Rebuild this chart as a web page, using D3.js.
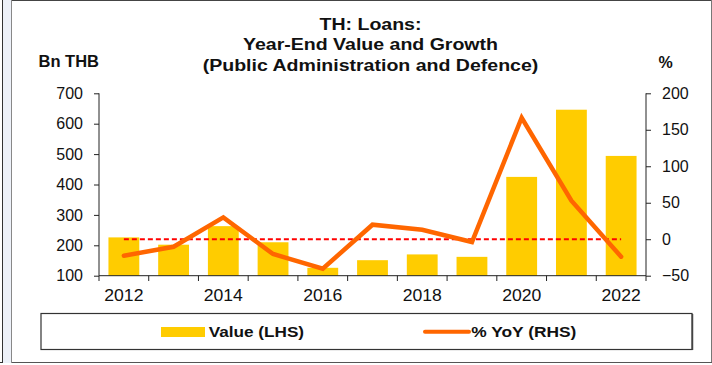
<!DOCTYPE html>
<html>
<head>
<meta charset="utf-8">
<script src="https://cdn.jsdelivr.net/npm/d3@7/dist/d3.min.js"></script>
<style>
  html, body { margin: 0; padding: 0; background: #fff; }
  svg { display: block; font-family: "Liberation Sans", Arial, sans-serif; }
</style>
</head>
<body>
<svg id="chart" width="712" height="365"></svg>
<script>
// Thai loans to public administration and defence, year-end
const years = [2012, 2013, 2014, 2015, 2016, 2017, 2018, 2019, 2020, 2021, 2022];
const valueBn = [226, 202, 263, 210, 126, 151, 170, 162, 425, 646, 494];
const yoyPct = [-22.6, -10.3, 30.0, -20.3, -40.4, 19.9, 13.0, -3.8, 166.5, 52.8, -24.0];
const leftTicks = [100, 200, 300, 400, 500, 600, 700];
const rightTicks = [-50, 0, 50, 100, 150, 200];
const xLabelYears = [2012, 2014, 2016, 2018, 2020, 2022];
const titleLines = ["TH: Loans:", "Year-End Value and Growth", "(Public Administration and Defence)"];
const legendLabels = ["Value (LHS)", "% YoY (RHS)"];

const BAR = "#FFCC00", LINE = "#FF6600", ZERO = "#FF0000";

const svg = d3.select("#chart");

// outer frame and side strip
svg.append("rect").attr("x", 3).attr("y", 0).attr("width", 9).attr("height", 363).attr("fill", "#edf1f9");
svg.append("line").attr("x1", 2.5).attr("x2", 2.5).attr("y1", 0).attr("y2", 363).attr("stroke", "#333");
svg.append("line").attr("x1", 0).attr("x2", 3).attr("y1", 362.5).attr("y2", 362.5).attr("stroke", "#333");
svg.append("line").attr("x1", 11.5).attr("x2", 11.5).attr("y1", 0).attr("y2", 363).attr("stroke", "#888");
svg.append("line").attr("x1", 12).attr("x2", 712).attr("y1", 0.5).attr("y2", 0.5).attr("stroke", "#444");
svg.append("line").attr("x1", 711.5).attr("x2", 711.5).attr("y1", 0).attr("y2", 363).attr("stroke", "#777");
svg.append("line").attr("x1", 12).attr("x2", 712).attr("y1", 362.5).attr("y2", 362.5).attr("stroke", "#555");

// text helper with horizontal stretch
function label(g, txt, x, y, size, anchor, sx, bold) {
  return g.append("text")
    .attr("transform", `translate(${x},${y}) scale(${sx},1)`)
    .attr("text-anchor", anchor)
    .attr("font-size", size)
    .attr("font-weight", bold ? "bold" : "normal")
    .attr("fill", "#111")
    .text(txt);
}

// title
titleLines.forEach((t, i) => label(svg, t, 370.5, 29.5 + i * 20.7, 17, "middle", 1.15, true));
label(svg, "Bn THB", 38.5, 67, 16.5, "start", 1.0, true);
label(svg, "%", 658.5, 68, 16, "start", 1.0, true);

// scales
const x = d3.scaleBand().domain(years).range([99, 646]).paddingInner(0.38).paddingOuter(0.19);
const yL = d3.scaleLinear().domain([100, 700]).range([275.7, 93.3]);
const yR = d3.scaleLinear().domain([-50, 200]).range([275.7, 93.3]);
const cx = d => x(d) + x.bandwidth() / 2;

// bars
svg.append("g").selectAll("rect").data(years).join("rect")
  .attr("x", d => x(d))
  .attr("width", x.bandwidth())
  .attr("y", (d, i) => yL(valueBn[i]))
  .attr("height", (d, i) => yL(100) - yL(valueBn[i]))
  .attr("fill", BAR);

// zero growth reference
svg.append("line")
  .attr("x1", cx(years[0])).attr("x2", cx(years[years.length - 1]))
  .attr("y1", yR(0)).attr("y2", yR(0))
  .attr("stroke", ZERO).attr("stroke-width", 2).attr("stroke-dasharray", "5,3");

// growth line
svg.append("path")
  .datum(years)
  .attr("d", d3.line().x(d => cx(d)).y((d, i) => yR(yoyPct[i])))
  .attr("fill", "none").attr("stroke", LINE).attr("stroke-width", 4.5)
  .attr("stroke-linecap", "round").attr("stroke-linejoin", "miter");

// axes
const axisColor = "#222";
const gL = svg.append("g").attr("transform", "translate(99,0)")
  .call(d3.axisLeft(yL).tickValues(leftTicks).tickSize(5).tickPadding(11));
const gR = svg.append("g").attr("transform", "translate(646,0)")
  .call(d3.axisRight(yR).tickValues(rightTicks).tickSize(5).tickPadding(11));
[gL, gR].forEach(g => {
  g.select(".domain").attr("stroke", axisColor).attr("d", "M0,93.3V275.7");
  g.selectAll(".tick line").attr("stroke", axisColor);
  g.selectAll(".tick text").attr("font-size", 16).attr("fill", "#111")
    .attr("font-family", "Liberation Sans, Arial, sans-serif");
});

// category axis: boundaries get tick marks, alternate years get labels
const gX = svg.append("g");
gX.append("line").attr("x1", 99).attr("x2", 646).attr("y1", 275.7).attr("y2", 275.7).attr("stroke", axisColor);
gX.selectAll("line.tk").data(d3.range(years.length + 1)).join("line")
  .attr("class", "tk")
  .attr("x1", i => x.range()[0] + i * x.step()).attr("x2", i => x.range()[0] + i * x.step())
  .attr("y1", 275.7).attr("y2", 281).attr("stroke", axisColor);
xLabelYears.forEach(yr => label(gX, String(yr), cx(yr), 300.7, 16, "middle", 1.1, false));

// legend
const lg = svg.append("g");
lg.append("rect").attr("x", 41).attr("y", 313.5).attr("width", 651).attr("height", 36)
  .attr("fill", "#fff").attr("stroke", "#333").attr("stroke-width", 1.2);
lg.append("line").attr("x1", 692.5).attr("x2", 692.5).attr("y1", 314).attr("y2", 350).attr("stroke", "#444").attr("stroke-width", 1.5);
lg.append("rect").attr("x", 161).attr("y", 327).attr("width", 44).attr("height", 10).attr("fill", BAR);
label(lg, legendLabels[0], 208.7, 336.7, 15, "start", 1.145, true);
lg.append("line").attr("x1", 425).attr("x2", 469).attr("y1", 331.7).attr("y2", 331.7)
  .attr("stroke", LINE).attr("stroke-width", 4).attr("stroke-linecap", "round");
label(lg, legendLabels[1], 471.3, 336.7, 15, "start", 1.157, true);
</script>
</body>
</html>
